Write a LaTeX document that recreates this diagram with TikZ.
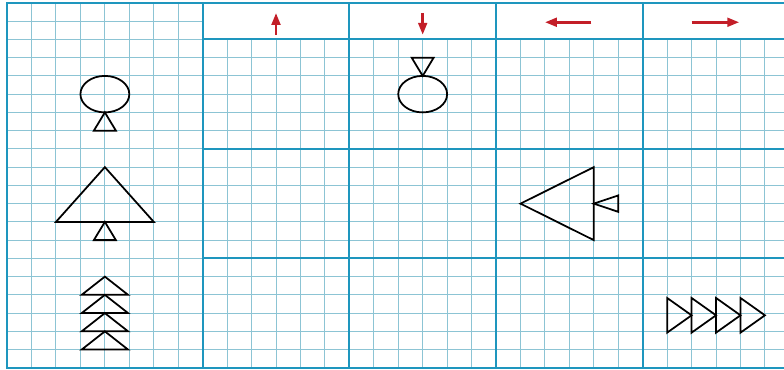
\documentclass[tikz,border=0pt]{standalone}
\usepackage{tikz}
\usetikzlibrary{arrows.meta}
\definecolor{gridline}{RGB}{140,196,212}
\definecolor{frameline}{RGB}{30,150,190}
\definecolor{arrowred}{RGB}{195,30,40}

\begin{document}
\begin{tikzpicture}[x=0.7335cm, y=0.5475cm, >={Triangle[length=3.6mm, width=2.6mm]},
  fine/.style={gridline, line width=0.85pt},
  frame/.style={frameline, line width=1.6pt},
  figure/.style={black, line width=1.5pt, line join=miter},
  hint/.style={->, arrowred, line width=2.4pt}]
  \useasboundingbox (-0.29,-0.11) rectangle (31.78,20.16);
  \fill[white] (-0.29,-0.11) rectangle (31.78,20.16);

  % Quadrillage
  \foreach \c in {1,...,7} \draw[fine] (\c,0) -- (\c,20);
  \foreach \r in {1,...,19} \draw[fine] (0,\r) -- (8,\r);
  \foreach \c in {9,...,31} \draw[fine] (\c,0) -- (\c,18);
  \foreach \r in {1,...,17} \draw[fine] (8,\r) -- (32,\r);

  % Cadres
  \draw[frame] (0,0) rectangle (32,20);
  \foreach \c in {8,14,20,26} \draw[frame] (\c,0) -- (\c,20);
  \foreach \r in {6,12,18} \draw[frame] (8,\r) -- (32,\r);

  % Flèches
  \draw[hint] (11,18.25) -- (11,19.45);
  \draw[hint] (17,19.45) -- (17,18.25);
  \draw[hint] (23.9,18.94) -- (22,18.94);
  \draw[hint] (28,18.94) -- (29.95,18.94);

  % Modèles
  \draw[figure] (4,15) circle[radius=1];
  \draw[figure] (4,14) -- (3.55,13) -- (4.45,13) -- cycle;
  \draw[figure] (4,11) -- (2,8) -- (6,8) -- cycle;
  \draw[figure] (4,8) -- (3.55,7) -- (4.45,7) -- cycle;
  \foreach \k in {1,...,4}
    \draw[figure] (4,\k+1) -- (3.05,\k) -- (4.95,\k) -- cycle;

  % Réponses
  \draw[figure] (17,15) circle[radius=1];
  \draw[figure] (16.55,17) -- (17.45,17) -- (17,16) -- cycle;
  \draw[figure] (21,9) -- (24,11) -- (24,7) -- cycle;
  \draw[figure] (24,9) -- (25,9.45) -- (25,8.55) -- cycle;
  \foreach \k in {27,...,30}
    \draw[figure] (\k,1.93) -- (\k+1,2.88) -- (\k,3.83) -- cycle;
\end{tikzpicture}
\end{document}
